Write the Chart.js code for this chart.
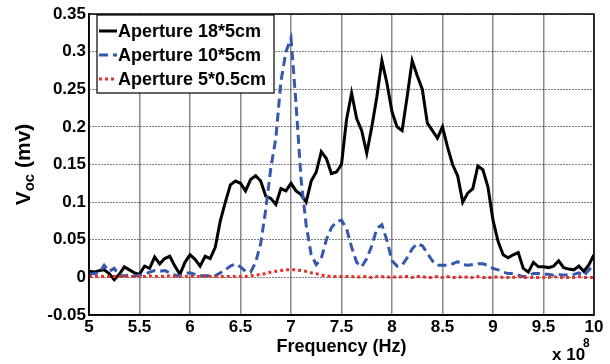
<!DOCTYPE html>
<html>
<head>
<meta charset="utf-8">
<script src="https://cdn.jsdelivr.net/npm/chart.js@4"></script>
<style>
  body { margin: 0; background: #fff; }
</style>
</head>
<body>
<canvas id="myChart" width="610" height="364"></canvas>
<script>
// frequency, in units of 1e8 Hz
const freq = [
  5.00, 5.05, 5.10, 5.15, 5.20, 5.25, 5.30, 5.35, 5.40, 5.45,
  5.50, 5.55, 5.60, 5.65, 5.70, 5.75, 5.80, 5.85, 5.90, 5.95,
  6.00, 6.05, 6.10, 6.15, 6.20, 6.25, 6.30, 6.35, 6.40, 6.45,
  6.50, 6.55, 6.60, 6.65, 6.70, 6.75, 6.80, 6.85, 6.90, 6.95,
  7.00, 7.05, 7.10, 7.15, 7.20, 7.25, 7.30, 7.35, 7.40, 7.45,
  7.50, 7.55, 7.60, 7.65, 7.70, 7.75, 7.80, 7.85, 7.90, 7.95,
  8.00, 8.05, 8.10, 8.15, 8.20, 8.25, 8.30, 8.35, 8.40, 8.45,
  8.50, 8.55, 8.60, 8.65, 8.70, 8.75, 8.80, 8.85, 8.90, 8.95,
  9.00, 9.05, 9.10, 9.15, 9.20, 9.25, 9.30, 9.35, 9.40, 9.45,
  9.50, 9.55, 9.60, 9.65, 9.70, 9.75, 9.80, 9.85, 9.90, 9.95,
  10.00
];

const ap18x5 = [
  0.008, 0.007, 0.009, 0.010, 0.005, -0.003, 0.004, 0.014, 0.010, 0.006,
  0.004, 0.015, 0.012, 0.027, 0.018, 0.025, 0.028, 0.015, 0.004, 0.020,
  0.030, 0.024, 0.015, 0.028, 0.025, 0.040, 0.075, 0.100, 0.123, 0.128,
  0.125, 0.115, 0.130, 0.135, 0.128, 0.108, 0.105, 0.097, 0.118, 0.115,
  0.125, 0.115, 0.110, 0.100, 0.128, 0.140, 0.167, 0.158, 0.138, 0.140,
  0.150, 0.210, 0.245, 0.211, 0.195, 0.165, 0.200, 0.240, 0.288, 0.258,
  0.220, 0.200, 0.195, 0.240, 0.288, 0.268, 0.250, 0.205, 0.195, 0.185,
  0.200, 0.173, 0.150, 0.135, 0.100, 0.112, 0.118, 0.148, 0.143, 0.120,
  0.076, 0.048, 0.030, 0.026, 0.030, 0.033, 0.012, 0.007, 0.020, 0.014,
  0.014, 0.013, 0.015, 0.022, 0.013, 0.011, 0.010, 0.015, 0.008, 0.017,
  0.030
];

const ap10x5 = [
  0.004, 0.005, 0.006, 0.016, 0.008, 0.012, 0.002, 0.002, 0.003, 0.002,
  0.003, 0.004, 0.007, 0.009, 0.008, 0.009, 0.006, 0.003, 0.002, 0.005,
  0.006, 0.004, 0.002, 0.002, 0.002, 0.002, 0.006, 0.010, 0.015, 0.018,
  0.014, 0.008, 0.007, 0.020, 0.045, 0.090, 0.145, 0.185, 0.260, 0.300,
  0.318, 0.230, 0.130, 0.070, 0.030, 0.017, 0.025, 0.050, 0.066, 0.074,
  0.076, 0.065, 0.040, 0.020, 0.014, 0.025, 0.042, 0.065, 0.070, 0.049,
  0.022, 0.015, 0.016, 0.026, 0.038, 0.045, 0.042, 0.032, 0.022, 0.016,
  0.016, 0.016, 0.018, 0.021, 0.017, 0.016, 0.017, 0.018, 0.018, 0.016,
  0.012, 0.010, 0.007, 0.005, 0.005, 0.003, 0.001, 0.002, 0.005, 0.005,
  0.004, 0.004, 0.003, 0.004, 0.003, 0.003, 0.004, 0.006, 0.002, 0.010,
  0.017
];

const ap5x05 = [
  0.001, 0.001, 0.001, 0.001, 0.001, 0.001, 0.001, 0.001, 0.001, 0.001,
  0.001, 0.001, 0.002, 0.001, 0.001, 0.001, 0.002, 0.001, 0.001, 0.001,
  0.001, 0.001, 0.001, 0.001, 0.001, 0.001, 0.001, 0.001, 0.001, 0.001,
  0.001, 0.001, 0.002, 0.003, 0.004, 0.005, 0.007, 0.008, 0.009, 0.010,
  0.010, 0.010, 0.009, 0.008, 0.006, 0.005, 0.003, 0.002, 0.001, 0.001,
  0.001, 0.001, 0.001, 0.000, 0.001, 0.001, 0.000, 0.001, 0.001, 0.000,
  0.001, 0.000, 0.001, 0.001, 0.000, 0.001, 0.001, 0.000, 0.000, 0.001,
  0.000, 0.001, 0.000, 0.000, 0.001, 0.000, 0.000, 0.001, 0.000, 0.000,
  0.000, 0.001, 0.000, 0.000, 0.000, 0.001, 0.000, 0.000, 0.000, 0.000,
  0.000, 0.000, 0.001, 0.000, 0.000, 0.000, 0.000, 0.001, 0.000, 0.000,
  0.000
];

const seriesNames = ['Aperture 18*5cm', 'Aperture 10*5cm', 'Aperture 5*0.5cm'];
const xTicks = [5, 5.5, 6, 6.5, 7, 7.5, 8, 8.5, 9, 9.5, 10];
const yTicks = [-0.05, 0, 0.05, 0.1, 0.15, 0.2, 0.25, 0.3, 0.35];

const FONT = "'Liberation Sans', Arial, sans-serif";
const colors = ['#000000', '#3557ad', '#e3312b'];
const dashes = [[], [9, 5], [3, 3]];

function pts(ys) {
  return freq.map((f, i) => ({ x: f, y: ys[i] }));
}

const fmt = v => String(Math.round(v * 100) / 100);

// legend box, axis titles and the frame drawn on top of the plot
const decor = {
  id: 'decor',
  afterDraw(chart) {
    const ctx = chart.ctx;
    const a = chart.chartArea;
    ctx.save();

    // frame
    ctx.strokeStyle = '#000';
    ctx.lineWidth = 1.5;
    ctx.setLineDash([]);
    ctx.strokeRect(a.left, a.top, a.right - a.left, a.bottom - a.top);

    // legend
    const lx = 97, ly = 15, lw = 177, lh = 78;
    ctx.fillStyle = '#fff';
    ctx.fillRect(lx, ly, lw, lh);
    ctx.lineWidth = 1.2;
    ctx.strokeRect(lx, ly, lw, lh);
    const rows = [31, 55, 79];
    ctx.font = 'bold 18px ' + FONT;
    ctx.textBaseline = 'middle';
    ctx.textAlign = 'left';
    seriesNames.forEach((name, i) => {
      ctx.strokeStyle = colors[i];
      ctx.lineWidth = 3;
      ctx.setLineDash(dashes[i]);
      ctx.beginPath();
      ctx.moveTo(99, rows[i]);
      ctx.lineTo(117, rows[i]);
      ctx.stroke();
      ctx.setLineDash([]);
      ctx.fillStyle = '#000';
      ctx.fillText(name, 118, rows[i] + 1);
    });

    // x title
    ctx.fillStyle = '#000';
    ctx.textAlign = 'center';
    ctx.font = 'bold 18px ' + FONT;
    ctx.fillText('Frequency (Hz)', (a.left + a.right) / 2, 347);

    // exponent
    ctx.textAlign = 'left';
    ctx.font = 'bold 17px ' + FONT;
    ctx.fillText('x 10', 552, 355);
    ctx.font = 'bold 12px ' + FONT;
    ctx.fillText('8', 583, 344);

    // y title with subscript
    ctx.translate(24, (a.top + a.bottom) / 2);
    ctx.rotate(-Math.PI / 2);
    const big = 'bold 21px ' + FONT, small = 'bold 15px ' + FONT;
    ctx.font = big;
    const wV = ctx.measureText('V').width;
    const wRest = ctx.measureText(' (mv)').width;
    ctx.font = small;
    const wSub = ctx.measureText('oc').width;
    let x0 = -(wV + wSub + wRest) / 2;
    ctx.font = big;
    ctx.fillText('V', x0, 0);
    ctx.font = small;
    ctx.fillText('oc', x0 + wV, 6);
    ctx.font = big;
    ctx.fillText(' (mv)', x0 + wV + wSub, 0);

    ctx.restore();
  }
};

const data = {
  datasets: [
    {
      label: seriesNames[0],
      data: pts(ap18x5),
      borderColor: colors[0],
      borderWidth: 3,
      order: 3
    },
    {
      label: seriesNames[1],
      data: pts(ap10x5),
      borderColor: colors[1],
      borderWidth: 3,
      borderDash: dashes[1],
      order: 2
    },
    {
      label: seriesNames[2],
      data: pts(ap5x05),
      borderColor: colors[2],
      borderWidth: 3,
      borderDash: dashes[2],
      order: 1
    }
  ]
};

const config = {
  type: 'line',
  data: data,
  options: {
    responsive: false,
    animation: false,
    devicePixelRatio: 1,
    layout: { padding: { top: 14, right: 16, left: 0, bottom: 0 } },
    elements: { point: { radius: 0 }, line: { tension: 0 } },
    plugins: { legend: { display: false }, tooltip: { enabled: false } },
    scales: {
      x: {
        type: 'linear',
        min: 5,
        max: 10,
        afterFit: s => { s.height = 49; },
        afterBuildTicks: s => { s.ticks = xTicks.map(v => ({ value: v })); },
        ticks: {
          callback: fmt,
          color: '#000',
          font: { family: FONT, size: 17, weight: 'bold' },
          padding: 2,
          maxRotation: 0,
          autoSkip: false
        },
        grid: { color: '#8a8a8a', lineWidth: 1.5, drawTicks: false },
        border: { color: '#000', width: 1.5 }
      },
      y: {
        min: -0.05,
        max: 0.35,
        afterFit: s => { s.width = 89; },
        afterBuildTicks: s => { s.ticks = yTicks.map(v => ({ value: v })); },
        ticks: {
          callback: fmt,
          color: '#000',
          font: { family: FONT, size: 17, weight: 'bold' },
          padding: 3
        },
        grid: { color: '#000', lineWidth: 1, drawTicks: false },
        border: { color: '#000', width: 1.5, dash: [1, 2] }
      }
    }
  },
  plugins: [decor]
};

const myChart = new Chart(
  document.getElementById('myChart'),
  config
);
</script>
</body>
</html>
